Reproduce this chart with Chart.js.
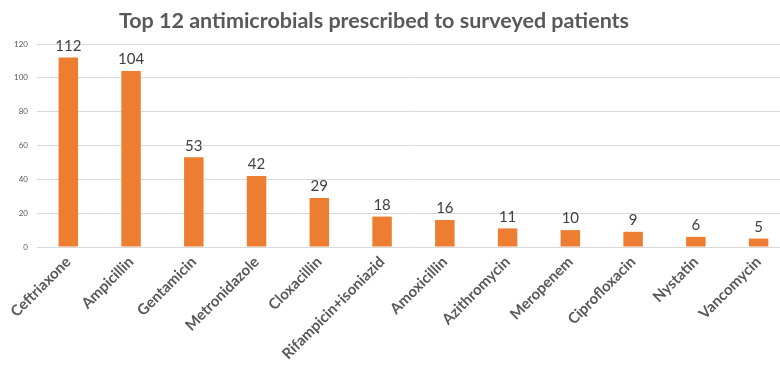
<!DOCTYPE html>
<html>
<head>
<meta charset="utf-8">
<script src="https://cdn.jsdelivr.net/npm/chart.js@4"></script>
<style>
  body { margin: 0; overflow: hidden; background: #fff; }
  #wrap { position: relative; width: 790px; height: 372px; }
  #title {
    position: absolute; left: 0; width: 748px; top: 7px;
    text-align: center; font: bold 21.5px Lato, sans-serif; color: #595959;
  }
</style>
</head>
<body>
<div id="wrap">
  <canvas id="chart"></canvas>
  <div id="title">Top 12 antimicrobials prescribed to surveyed patients</div>
</div>
<script>
const drugs = ['Ceftriaxone', 'Ampicillin', 'Gentamicin', 'Metronidazole', 'Cloxacillin',
    'Rifampicin+isoniazid', 'Amoxicillin', 'Azithromycin', 'Meropenem', 'Ciprofloxacin',
    'Nystatin', 'Vancomycin'];
const patients = [112, 104, 53, 42, 29, 18, 16, 11, 10, 9, 6, 5];
const yTicks = [0, 20, 40, 60, 80, 100, 120];

// value labels above each bar
const barLabels = {
    id: 'barLabels',
    afterDatasetsDraw(chart) {
        const ctx = chart.ctx;
        const meta = chart.getDatasetMeta(0);
        ctx.save();
        ctx.font = '15px Lato, sans-serif';
        ctx.fillStyle = '#404040';
        ctx.textAlign = 'center';
        ctx.textBaseline = 'bottom';
        meta.data.forEach((bar, i) => {
            ctx.fillText(patients[i], bar.x, bar.y - 4);
        });
        ctx.restore();
    }
};

const ctx = document.getElementById('chart');
new Chart(ctx, {
    type: 'bar',
    data: {
        labels: drugs,
        datasets: [{
            data: patients,
            backgroundColor: '#ED7D31',
            barPercentage: 0.31,
            categoryPercentage: 1
        }]
    },
    options: {
        responsive: true,
        maintainAspectRatio: false,
        animation: false,
        layout: { padding: { top: 44, left: 5, right: 0, bottom: 3 } },
        plugins: {
            legend: { display: false },
            tooltip: { enabled: false }
        },
        scales: {
            x: {
                grid: { display: false, drawTicks: false },
                border: { display: false },
                ticks: {
                    maxRotation: 45,
                    minRotation: 45,
                    autoSkip: false,
                    padding: 6,
                    color: '#595959',
                    font: { family: 'Lato', size: 15, weight: 'bold' }
                }
            },
            y: {
                min: 0,
                max: 120,
                afterBuildTicks: axis => {
                    axis.ticks = yTicks.map(v => ({ value: v }));
                },
                grid: { color: '#d9d9d9', drawTicks: false },
                border: { display: false },
                ticks: {
                    padding: 9,
                    color: '#595959',
                    font: { family: 'Lato', size: 8 }
                }
            }
        }
    },
    plugins: [barLabels]
});
</script>
</body>
</html>
